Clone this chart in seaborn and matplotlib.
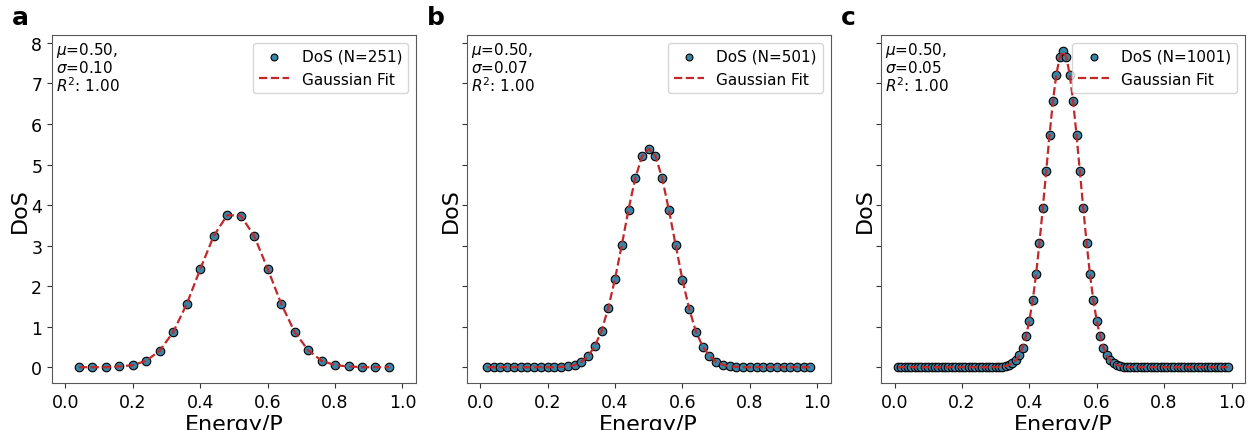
import numpy as np
import pandas as pd
import seaborn as sns
import matplotlib.pyplot as plt

# energy grids (bin centres)
energy_a = [0.04, 0.08, 0.12, 0.16, 0.20, 0.24, 0.28, 0.32, 0.36, 0.40, 0.44, 0.48,
            0.52, 0.56, 0.60, 0.64, 0.68, 0.72, 0.76, 0.80, 0.84, 0.88, 0.92, 0.96]
dos_a = [0.0, 0.0, 0.0, 0.02, 0.05, 0.16, 0.41, 0.87, 1.56, 2.42, 3.24, 3.75,
         3.74, 3.24, 2.43, 1.57, 0.87, 0.42, 0.16, 0.05, 0.02, 0.0, 0.0, 0.0]

energy_b = [round(0.02 * i, 2) for i in range(1, 50)]
dos_b = [0.0, 0.0, 0.0, 0.0, 0.0, 0.0, 0.0, 0.0, 0.0, 0.0, 0.0, 0.01,
         0.02, 0.05, 0.13, 0.27, 0.52, 0.90, 1.46, 2.18, 3.01, 3.89, 4.66, 5.20,
         5.39,
         5.21, 4.66, 3.87, 3.01, 2.16, 1.44, 0.88, 0.51, 0.28, 0.13, 0.06, 0.02,
         0.01, 0.0, 0.0, 0.0, 0.0, 0.0, 0.0, 0.0, 0.0, 0.0, 0.0, 0.0]

energy_c = [round(0.01 * i, 2) for i in range(1, 100)]
dos_c_left = [0.0] * 28 + [0.002, 0.004, 0.007, 0.015, 0.03, 0.055, 0.10, 0.17,
                           0.29, 0.48, 0.76, 1.15, 1.65, 2.29, 3.06, 3.93, 4.83,
                           5.73, 6.56, 7.21, 7.65]
dos_c = dos_c_left + [7.79] + dos_c_left[::-1]

labels = ["a", "b", "c"]
n_points = [251, 501, 1001]
sigmas = ["0.10", "0.07", "0.05"]

marker_color = "#3a84a6"
fit_color = "#c0282a"

sns.set_style("ticks", rc={"text.color": "black", "axes.labelcolor": "black",
                           "xtick.color": "black", "ytick.color": "black"})
plt.rcParams['font.family'] = ['DejaVu Sans']

fig = plt.figure(figsize=(12.49, 4.31), dpi=100)
lefts = [0.0416, 0.3737, 0.7054]
axes = []
for i, left in enumerate(lefts):
    if i == 0:
        ax = fig.add_axes([left, 0.109, 0.2914, 0.807])
    else:
        ax = fig.add_axes([left, 0.109, 0.2914, 0.807], sharey=axes[0])
    axes.append(ax)

data = [(energy_a, dos_a), (energy_b, dos_b), (energy_c, dos_c)]

for i, ax in enumerate(axes):
    x, y = data[i]
    df = pd.DataFrame({"Energy/P": x, "DoS": y})
    sns.scatterplot(data=df, x="Energy/P", y="DoS", ax=ax, color=marker_color,
                    edgecolor="black", linewidth=0.8, s=38, zorder=2,
                    label=f"DoS (N={n_points[i]})")
    sns.lineplot(data=df, x="Energy/P", y="DoS", ax=ax, color=fit_color,
                 linestyle="--", linewidth=1.6, zorder=3, label="Gaussian Fit")
    ax.set_xlim(-0.04, 1.04)
    ax.set_xticks([0.0, 0.2, 0.4, 0.6, 0.8, 1.0])
    ax.set_xlabel("Energy/P", fontsize=16, labelpad=2)
    ax.set_ylabel("DoS", fontsize=16, labelpad=1)
    ax.tick_params(labelsize=12.5, color="0.2")
    for sp in ax.spines.values():
        sp.set_visible(True)
        sp.set_color("0.35")
    if i > 0:
        ax.tick_params(labelleft=False)
    ax.text(0.012, 0.985, f"$\\mu$=0.50,\n$\\sigma$={sigmas[i]}\n$R^2$: 1.00",
            transform=ax.transAxes, ha="left", va="top", fontsize=11,
            linespacing=1.0)
    ax.legend(loc="upper right", fontsize=11, markerscale=0.8)
    fig.text(lefts[i] - 0.032, 0.93, labels[i], fontsize=18, fontweight="bold",
             ha="left", va="bottom")

axes[0].set_ylim(-0.39, 8.19)
axes[0].set_yticks(range(0, 9))

fig.savefig("out.png", dpi=100)
